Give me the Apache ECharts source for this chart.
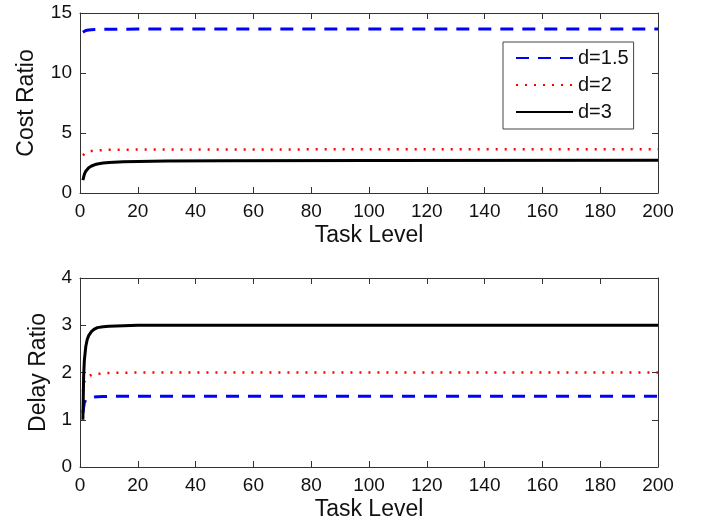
<!DOCTYPE html>
<html>
<head>
<meta charset="utf-8">
<script src="https://cdn.jsdelivr.net/npm/echarts@6/dist/echarts.min.js"></script>
<style>
html,body{margin:0;padding:0;background:#fff;}
#chart{width:715px;height:525px;}
</style>
</head>
<body>
<div id="chart"></div>
<script>
const costX15 = [1, 1.5, 2, 3, 4, 5, 6, 8, 10, 20, 50, 100, 200];
const cost15  = [13.40, 13.50, 13.55, 13.59, 13.61, 13.62, 13.63, 13.64, 13.65, 13.66, 13.66, 13.66, 13.66];
const costX2  = [1, 2, 3, 4, 5, 6, 8, 10, 20, 50, 100, 200];
const cost2   = [3.15, 3.35, 3.45, 3.50, 3.53, 3.55, 3.58, 3.60, 3.62, 3.63, 3.64, 3.64];
const costX3  = [1, 1.5, 2, 2.5, 3, 4, 5, 6, 8, 10, 15, 20, 30, 50, 100, 200];
const cost3   = [1.08, 1.55, 1.82, 1.98, 2.10, 2.25, 2.35, 2.42, 2.50, 2.55, 2.60, 2.63, 2.66, 2.69, 2.71, 2.72];

const delayX15 = [1, 1.5, 2, 3, 4, 5, 6, 8, 10, 20, 50, 100, 200];
const delay15  = [1.15, 1.36, 1.42, 1.45, 1.47, 1.48, 1.485, 1.49, 1.495, 1.50, 1.50, 1.50, 1.50];
const delayX2  = [1, 1.5, 2, 3, 4, 5, 6, 8, 10, 20, 50, 100, 200];
const delay2   = [1.60, 1.80, 1.86, 1.92, 1.95, 1.96, 1.97, 1.98, 1.99, 2.00, 2.00, 2.00, 2.00];
const delayX3  = [1, 1.25, 1.5, 2, 2.5, 3, 4, 5, 6, 8, 10, 15, 20, 50, 100, 200];
const delay3   = [1.00, 1.90, 2.25, 2.55, 2.70, 2.78, 2.87, 2.92, 2.95, 2.97, 2.98, 2.99, 3.00, 3.00, 3.00, 3.00];

const xTicks = [0, 20, 40, 60, 80, 100, 120, 140, 160, 180, 200];
const costTicks = [0, 5, 10, 15];
const delayTicks = [0, 1, 2, 3, 4];
const seriesNames = ['d=1.5', 'd=2', 'd=3'];

const FONT = 'Liberation Sans, Arial, sans-serif';
const AXC = '#333';

function zip(xs, ys) { return xs.map((x, i) => [x, ys[i]]); }

function xAx(gi, pos, showLab) {
  return {
    type: 'value', gridIndex: gi, position: pos,
    min: xTicks[0], max: xTicks[xTicks.length - 1], interval: xTicks[1] - xTicks[0],
    axisLine: { show: true, onZero: false, lineStyle: { color: AXC, width: 1 } },
    axisTick: { show: true, inside: true, length: 6, lineStyle: { color: AXC } },
    axisLabel: { show: showLab, color: '#111', fontSize: 19, fontFamily: FONT, margin: 9 },
    splitLine: { show: false },
    name: showLab ? 'Task Level' : '',
    nameLocation: 'middle', nameGap: 31,
    nameTextStyle: { color: '#111', fontSize: 23, fontFamily: FONT }
  };
}
function yAx(gi, pos, ticks, showLab, name, gap) {
  return {
    type: 'value', gridIndex: gi, position: pos,
    min: ticks[0], max: ticks[ticks.length - 1], interval: ticks[1] - ticks[0],
    axisLine: { show: true, onZero: false, lineStyle: { color: AXC, width: 1 } },
    axisTick: { show: true, inside: true, length: 6, lineStyle: { color: AXC } },
    axisLabel: { show: showLab, color: '#111', fontSize: 19, fontFamily: FONT, margin: 8 },
    splitLine: { show: false },
    name: showLab ? name : '',
    nameLocation: 'middle', nameGap: gap,
    nameTextStyle: { color: '#111', fontSize: 23, fontFamily: FONT }
  };
}

const styles = [
  { color: '#0000ff', width: 3, type: [13, 9] },
  { color: '#ff0000', width: 2.5, type: [2, 7] },
  { color: '#000000', width: 3, type: 'solid' }
];

function ser(name, data, gi, st) {
  return {
    name: name, type: 'line', xAxisIndex: gi * 2, yAxisIndex: gi * 2,
    data: data, showSymbol: false, symbol: 'none', smooth: false,
    lineStyle: { color: st.color, width: st.width, type: st.type },
    itemStyle: { color: st.color },
    emphasis: { disabled: true }
  };
}

const chart = echarts.init(document.getElementById('chart'), null, { renderer: 'canvas' });
chart.setOption({
  animation: false,
  backgroundColor: '#fff',
  grid: [
    { left: 80, right: 57, top: 13, height: 180 },
    { left: 80, right: 57, top: 278, height: 189 }
  ],
  xAxis: [xAx(0, 'bottom', true), xAx(0, 'top', false), xAx(1, 'bottom', true), xAx(1, 'top', false)],
  yAxis: [
    yAx(0, 'left', costTicks, true, 'Cost Ratio', 42),
    yAx(0, 'right', costTicks, false, '', 0),
    yAx(1, 'left', delayTicks, true, 'Delay Ratio', 29),
    yAx(1, 'right', delayTicks, false, '', 0)
  ],
  legend: {
    data: seriesNames,
    orient: 'vertical',
    left: 503, top: 42,
    padding: [6, 5, 7, 12],
    itemWidth: 57, itemHeight: 14, itemGap: 7,
    itemStyle: { opacity: 0, borderWidth: 0 },
    backgroundColor: '#fff',
    borderColor: '#444', borderWidth: 1, borderRadius: 0,
    textStyle: { color: '#111', fontSize: 20, fontFamily: FONT },
    selectedMode: false
  },
  series: [
    ser(seriesNames[0], zip(costX15, cost15), 0, styles[0]),
    ser(seriesNames[1], zip(costX2, cost2), 0, styles[1]),
    ser(seriesNames[2], zip(costX3, cost3), 0, styles[2]),
    ser(seriesNames[0], zip(delayX15, delay15), 1, styles[0]),
    ser(seriesNames[1], zip(delayX2, delay2), 1, styles[1]),
    ser(seriesNames[2], zip(delayX3, delay3), 1, styles[2])
  ]
});
</script>
</body>
</html>
